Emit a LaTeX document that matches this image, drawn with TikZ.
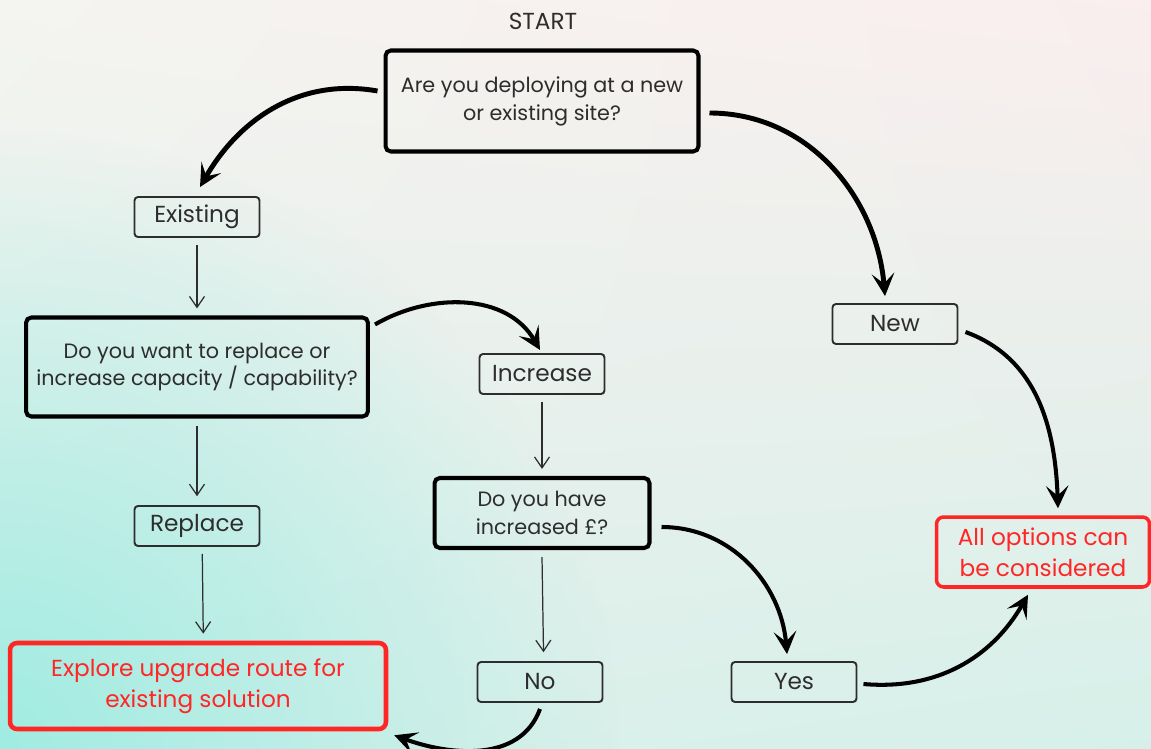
\documentclass[tikz,border=0pt]{standalone}
\usepackage{fontspec}
\setmainfont{Poppins}
\usepackage{xcolor}
\definecolor{ink_flow}{RGB}{45,45,45}
\definecolor{red_flow}{RGB}{255,38,38}
\definecolor{bg_ul}{RGB}{244,244,240}
\definecolor{bg_ur}{RGB}{250,238,238}
\definecolor{bg_ll}{RGB}{222,240,235}
\definecolor{bg_lr}{RGB}{214,240,233}
\definecolor{bg_cyan}{RGB}{160,236,226}
\usepackage{tikz}
\usetikzlibrary{arrows.meta,positioning,fadings,shadings}
\tikzfading[name=glow, inner color=transparent!0, outer color=transparent!100]

\begin{document}
\begin{tikzpicture}
[	x=0.02cm, y=-0.02cm,
	font=\fontsize{11.8}{15.9}\selectfont, text=ink_flow,
	question/.style={draw=black, line width=2.3pt, rounded corners=3pt, align=center, inner sep=4pt, fill=none},
	answer/.style={draw=ink_flow, line width=1.1pt, rounded corners=2pt, minimum width=2.5cm, minimum height=0.8cm, inner sep=2pt, font=\fontsize{13.2}{16}\selectfont},
	outcome/.style={draw=red_flow, line width=2pt, rounded corners=4pt, align=center, text=red_flow, inner sep=4pt, font=\fontsize{13.2}{17.5}\selectfont},
	bigarrow/.style={line width=2.3pt, -{Stealth[length=4.5mm, width=4.5mm, inset=2mm]}},
	thinarrow/.style={line width=0.7pt, draw=ink_flow, -{Straight Barb[length=2.2mm, width=3mm]}}
]
% background
\shade[upper left=bg_ul, upper right=bg_ur, lower left=bg_ll, lower right=bg_lr] (0,0) rectangle (1151,749);
\begin{scope}
	\clip (0,0) rectangle (1151,749);
	\fill[bg_cyan, path fading=glow] (0,749) circle (620);
\end{scope}
\useasboundingbox (0,0) rectangle (1151,749);

\node(start)[font=\fontsize{13.2}{16}\selectfont] at (543,21) {START};
\node(site)[question, minimum width=6.26cm, minimum height=2.02cm] at (542,101) {Are you deploying at a new\\or existing site?};
\node(existing)[answer] at (197,217) {Existing};
\node(capacity)[question, minimum width=6.84cm, minimum height=1.98cm] at (197,367) {Do you want to replace or\\increase capacity / capability?};
\node(increase)[answer] at (542,374) {Increase};
\node(replace)[answer] at (197,526) {Replace};
\node(funds)[question, minimum width=4.3cm, minimum height=1.4cm] at (542,513) {Do you have\\increased £?};
\node(upgrade)[outcome, minimum width=7.52cm, minimum height=1.72cm, line width=2.6pt] at (198,686) {Explore upgrade route for\\existing solution};
\node(no)[answer] at (540,682) {No};
\node(yes)[answer] at (794,682) {Yes};
\node(new)[answer] at (895,324) {New};
\node(all)[outcome, minimum width=4.26cm, minimum height=1.4cm] at (1043,552) {All options can\\be considered};

% curved arrows
\draw[bigarrow, line width=2.8pt] ([xshift=-0.12cm, yshift=0.2cm]site.west) to[out=170, in=60] ([xshift=0.06cm, yshift=0.18cm]existing.north);
\draw[bigarrow, line width=2.8pt] ([xshift=0.18cm, yshift=-0.24cm]site.east) to[out=0, in=95] ([xshift=-0.2cm, yshift=0.14cm]new.north);
\draw[bigarrow] ([xshift=0.1cm, yshift=-0.18cm]capacity.north east) to[out=30, in=120] ([xshift=-0.04cm, yshift=0.06cm]increase.north);
\draw[bigarrow] ([xshift=0.2cm, yshift=-0.28cm]funds.east) to[out=0, in=95] ([xshift=-0.14cm, yshift=0.14cm]yes.north);
\draw[bigarrow] ([xshift=0.14cm, yshift=-0.16cm]new.east) to[out=-20, in=92] ([xshift=0.3cm, yshift=0.14cm]all.north);
\draw[bigarrow] ([xshift=0.12cm, yshift=-0.04cm]yes.east) to[out=-5, in=240] ([xshift=-0.3cm, yshift=-0.12cm]all.south);
\draw[bigarrow] ([yshift=-0.12cm]no.south) to[out=250, in=-20] ([xshift=0.12cm, yshift=-0.08cm]upgrade.south east);

% straight arrows
\draw[thinarrow] ([yshift=-4pt]existing.south) -- ([yshift=4pt]capacity.north);
\draw[thinarrow] ([yshift=-4pt]capacity.south) -- ([yshift=5pt]replace.north);
\draw[thinarrow] ([xshift=3pt, yshift=-4pt]replace.south) -- ([xshift=3pt, yshift=4pt]upgrade.north);
\draw[thinarrow] ([yshift=-4pt]increase.south) -- ([yshift=4pt]funds.north);
\draw[thinarrow] ([yshift=-4pt]funds.south) -- ([xshift=2pt, yshift=5pt]no.north);

\end{tikzpicture}
\end{document}
